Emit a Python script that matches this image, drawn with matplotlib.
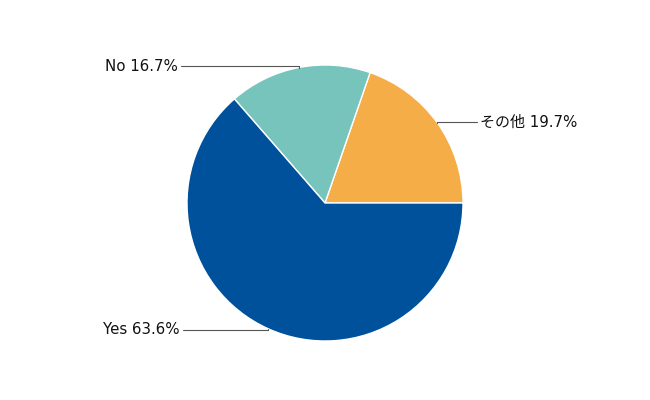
import numpy as np
import matplotlib.pyplot as plt

plt.rcParams['font.family'] = ['DejaVu Sans', 'Noto Sans CJK JP']

labels = ['その他', 'No', 'Yes']
values = [19.7, 16.7, 63.6]
colors = ['#F5AD47', '#77C4BC', '#00519C']
# label anchor (data coords, pie radius = 1) and text alignment
label_pos = [(1.12, 0.587), (-1.065, 0.99), (-1.05, -0.92)]
label_ha = ['left', 'right', 'right']

fig = plt.figure(figsize=(6.5, 4), dpi=100)
ax = fig.add_axes([187 / 650, 59 / 400, 276 / 650, 276 / 400])

wedges, _ = ax.pie(values, colors=colors, startangle=0, counterclock=True,
                   wedgeprops=dict(edgecolor='white', linewidth=1))
ax.set_xlim(-1, 1)
ax.set_ylim(-1, 1)
ax.set_aspect('equal')
ax.axis('off')

for w, lab, val, pos, ha in zip(wedges, labels, values, label_pos, label_ha):
    mid = np.deg2rad((w.theta1 + w.theta2) / 2)
    xy = (np.cos(mid), np.sin(mid))
    ax.annotate(f'{lab} {val}%', xy=xy, xytext=pos, ha=ha, va='center',
                fontsize=10.8, color='#111111', annotation_clip=False,
                arrowprops=dict(arrowstyle='-', color='#555555', lw=0.8,
                                shrinkA=0, shrinkB=0,
                                connectionstyle='angle,angleA=0,angleB=90,rad=0'))

fig.savefig('out.png', dpi=100, facecolor='white')
